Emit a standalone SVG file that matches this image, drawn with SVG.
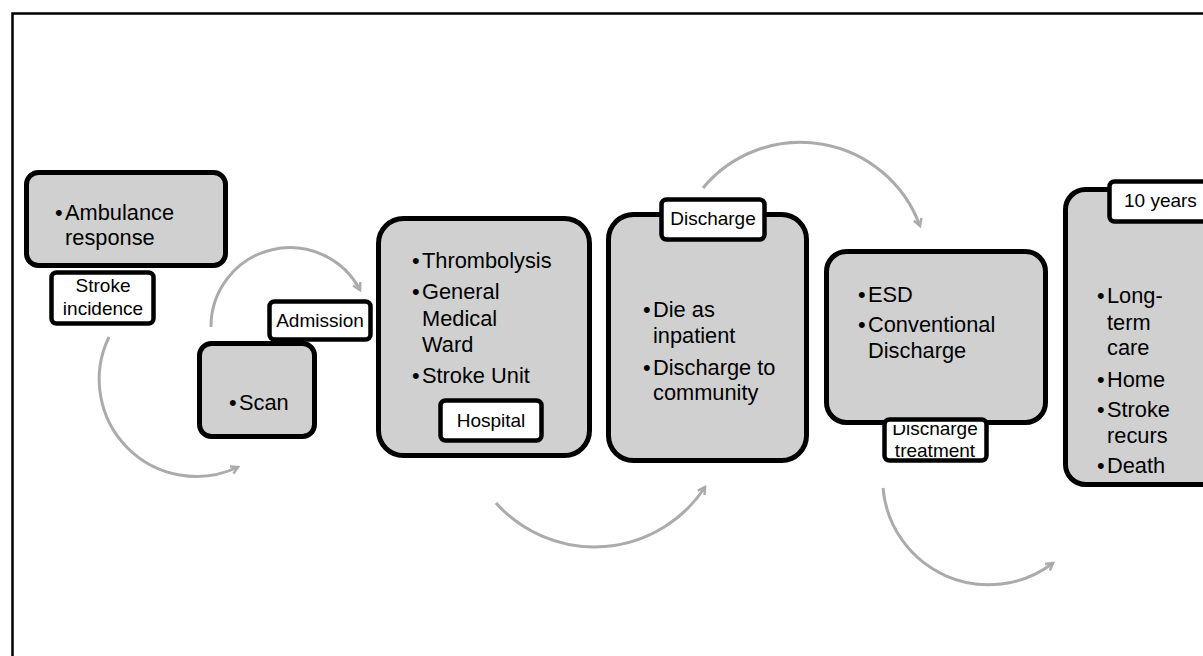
<svg xmlns="http://www.w3.org/2000/svg" width="1203" height="656" viewBox="0 0 1203 656">
<style>
.box{fill:#d0d0d0;stroke:#000;stroke-width:5}
.lbl{fill:#fff;stroke:#000;stroke-width:4.5}
.t{font-family:"Liberation Sans",Arial,sans-serif;font-size:21.8px;fill:#000}
.l{font-family:"Liberation Sans",Arial,sans-serif;font-size:19px;fill:#000}
.arc{fill:none;stroke:#ababab;stroke-width:3;marker-end:url(#ah)}
</style>
<defs>
<marker id="ah" markerUnits="userSpaceOnUse" markerWidth="12" markerHeight="12" refX="8" refY="5" orient="auto">
<path d="M1,1 L8,5 L1,9" fill="none" stroke="#ababab" stroke-width="2.5"/>
</marker>
<clipPath id="dtclip"><rect x="886" y="425" width="99" height="33"/></clipPath>
</defs>
<rect x="0" y="0" width="1203" height="656" fill="#fff"/>
<rect x="12.5" y="13.5" width="1300" height="1000" fill="none" stroke="#000" stroke-width="2.5"/>
<g id="connectors">
<path class="arc" d="M109,337 A97,97 0 0 0 238,467"/>
<path class="arc" d="M211,327 A79,79 0 0 1 360,290"/>
<path class="arc" d="M496,503 A132,132 0 0 0 705,487"/>
<path class="arc" d="M703,188 A127,127 0 0 1 920,226"/>
<path class="arc" d="M883,488 A106,106 0 0 0 1053,563"/>
</g>
<g id="ambulance">
<rect class="box" x="26.5" y="172.5" width="199" height="93" rx="12"/>
<text class="t"><tspan x="55" y="220">•</tspan><tspan x="65" y="220">Ambulance</tspan><tspan x="65" y="245">response</tspan></text>
</g>
<g id="stroke-incidence">
<rect class="lbl" x="51.5" y="272.5" width="102" height="51" rx="5"/>
<text class="l" text-anchor="middle"><tspan x="103" y="292">Stroke</tspan><tspan x="103" y="315">incidence</tspan></text>
</g>
<g id="admission">
<rect class="lbl" x="269.5" y="301.5" width="101" height="38" rx="5"/>
<text class="l" x="320" y="327" text-anchor="middle">Admission</text>
</g>
<g id="scan">
<rect class="box" x="199.5" y="343.5" width="115" height="93" rx="12"/>
<text class="t"><tspan x="229" y="410">•</tspan><tspan x="239" y="410">Scan</tspan></text>
</g>
<g id="hospital">
<rect class="box" x="378.5" y="218.5" width="211" height="237" rx="25"/>
<text class="t"><tspan x="412" y="268">•</tspan><tspan x="422" y="268">Thrombolysis</tspan><tspan x="412" y="299">•</tspan><tspan x="422" y="299">General</tspan><tspan x="422" y="326">Medical</tspan><tspan x="422" y="352">Ward</tspan><tspan x="412" y="383">•</tspan><tspan x="422" y="383">Stroke Unit</tspan></text>
<rect class="lbl" x="440.5" y="400.5" width="101" height="40" rx="5"/>
<text class="l" x="491" y="427" text-anchor="middle">Hospital</text>
</g>
<g id="discharge">
<rect class="box" x="608.5" y="214.5" width="198" height="246" rx="25"/>
<text class="t"><tspan x="643" y="317">•</tspan><tspan x="653" y="317">Die as</tspan><tspan x="653" y="343">inpatient</tspan><tspan x="643" y="375">•</tspan><tspan x="653" y="375">Discharge to</tspan><tspan x="653" y="400">community</tspan></text>
<rect class="lbl" x="661.5" y="199.5" width="103" height="40" rx="5"/>
<text class="l" x="713" y="225" text-anchor="middle">Discharge</text>
</g>
<g id="discharge-treatment">
<rect class="box" x="826.5" y="251.5" width="219" height="171" rx="20"/>
<text class="t"><tspan x="858" y="302">•</tspan><tspan x="868" y="302">ESD</tspan><tspan x="858" y="332">•</tspan><tspan x="868" y="332">Conventional</tspan><tspan x="868" y="358">Discharge</tspan></text>
<rect class="lbl" x="884.5" y="419.5" width="102" height="41" rx="5"/>
<text class="l" text-anchor="middle" clip-path="url(#dtclip)"><tspan x="935" y="435">Discharge</tspan><tspan x="935" y="457">treatment</tspan></text>
</g>
<g id="ten-years">
<rect class="box" x="1065.5" y="189.5" width="200" height="295" rx="20"/>
<text class="t"><tspan x="1097" y="303">•</tspan><tspan x="1107" y="303">Long-</tspan><tspan x="1107" y="330">term</tspan><tspan x="1107" y="355">care</tspan><tspan x="1097" y="387">•</tspan><tspan x="1107" y="387">Home</tspan><tspan x="1097" y="417">•</tspan><tspan x="1107" y="417">Stroke</tspan><tspan x="1107" y="443">recurs</tspan><tspan x="1097" y="473">•</tspan><tspan x="1107" y="473">Death</tspan></text>
<rect class="lbl" x="1109.5" y="181.5" width="110" height="40" rx="5"/>
<text class="l" x="1124" y="207">10 years</text>
</g>
</svg>
